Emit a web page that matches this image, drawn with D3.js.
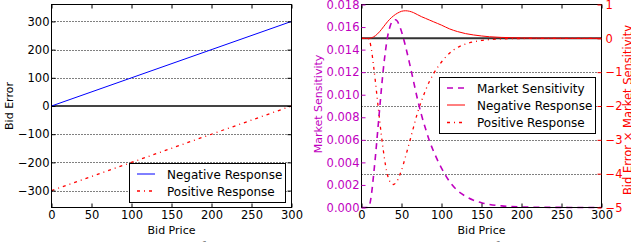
<!DOCTYPE html>
<html><head><meta charset="utf-8">
<script src="https://cdn.jsdelivr.net/npm/d3@7"></script>
<style>body{margin:0;background:#fff}svg{display:block}text{font-family:"DejaVu Sans",sans-serif}</style>
</head><body><svg id="c" width="631" height="242"></svg>
<script>
// ---- data ----
const bidPrice = [0, 300];
const negativeError = [0, 300];
const positiveError = [-300, 0];
const leftXTicks = [0, 50, 100, 150, 200, 250, 300];
const leftYTicks = [-300, -200, -100, 0, 100, 200, 300];

const sensBid = [0,5,8,10,12.5,15,17.5,20,22.5,25,27.5,30,32.5,35,37.5,40,42.5,45,47.5,50,55,60,65,70,75,80,85,90,95,100,110,120,130,140,150,160,175,200,225,250,275,300];
const sensitivity = [0,0,0,0.0002,0.0012,0.0028,0.0046,0.0066,0.0086,0.0106,0.0124,0.0139,0.0151,0.0159,0.0164,0.0166,0.01665,0.0165,0.0161,0.0156,0.0143,0.0128,0.0112,0.0096,0.0082,0.0070,0.0059,0.0050,0.0042,0.0035,0.0023,0.0015,0.0010,0.00065,0.00042,0.00027,0.00014,0.00005,0.00002,0.00001,0,0];
const negResponse = [0,0,0,0.002,0.015,0.042,0.08,0.132,0.194,0.265,0.341,0.417,0.491,0.557,0.615,0.664,0.708,0.745,0.775,0.80,0.815,0.80,0.76,0.70,0.64,0.59,0.54,0.49,0.44,0.39,0.28,0.20,0.14,0.10,0.07,0.047,0.027,0.011,0.005,0.0025,0,0];
const posResponse = [0,0,0,-0.06,-0.35,-0.80,-1.30,-1.85,-2.38,-2.9,-3.35,-3.75,-4.04,-4.21,-4.30,-4.32,-4.28,-4.20,-4.06,-3.90,-3.50,-3.07,-2.63,-2.20,-1.85,-1.54,-1.27,-1.05,-0.86,-0.70,-0.44,-0.27,-0.17,-0.104,-0.063,-0.038,-0.018,-0.005,-0.0015,-0.0005,0,0];
const rightXTicks = [0, 50, 100, 150, 200, 250, 300];
const sensTicks = [0,0.002,0.004,0.006,0.008,0.010,0.012,0.014,0.016,0.018];
const prodTicks = [-5,-4,-3,-2,-1,0,1];

const MAG = "#bf00bf", RED = "#ff0000", BLUE = "#0000ff";
const svg = d3.select("#c");
const fmtMinus = v => (v < 0 ? "\u2212" + Math.abs(v) : String(v));

function frame(g, x0, x1, y0, y1) {
  g.append("rect").attr("x", x0).attr("y", y0).attr("width", x1 - x0).attr("height", y1 - y0)
    .attr("fill", "none").attr("stroke", "#000").attr("stroke-width", 1);
}

// ================= LEFT PLOT =================
{
  const x = d3.scaleLinear().domain([0, 300]).range([51.5, 291.5]);
  const y = d3.scaleLinear().domain([-360, 360]).range([207.5, 4.5]);
  const g = svg.append("g");
  g.selectAll(".grid").data(leftYTicks.filter(d => d !== 0)).join("line")
    .attr("x1", x(0)).attr("x2", x(300)).attr("y1", d => Math.round(y(d)) + 0.5).attr("y2", d => Math.round(y(d)) + 0.5)
    .attr("stroke", "#000").attr("stroke-width", 1).attr("stroke-dasharray", "1,2");
  g.append("line").attr("x1", x(0)).attr("x2", x(300)).attr("y1", y(0)).attr("y2", y(0))
    .attr("stroke", "#444").attr("stroke-width", 2);
  const line = d3.line().x((d, i) => x(bidPrice[i])).y(d => y(d));
  g.append("path").attr("d", line(negativeError)).attr("fill", "none").attr("stroke", BLUE).attr("stroke-width", 1);
  g.append("path").attr("d", line(positiveError)).attr("fill", "none").attr("stroke", RED).attr("stroke-width", 1.3)
    .attr("stroke-dasharray", "3,4,1,4");
  frame(g, 51.5, 291.5, 4.5, 207.5);
  const xb = d3.axisBottom(x).tickValues(leftXTicks).tickSizeInner(-4).tickSizeOuter(0).tickPadding(3);
  const ax = g.append("g").attr("transform", "translate(0,207.5)").call(xb);
  const xt = d3.axisTop(x).tickValues(leftXTicks).tickSizeInner(-4).tickSizeOuter(0).tickFormat("");
  const axt = g.append("g").attr("transform", "translate(0,4.5)").call(xt);
  const yl = d3.axisLeft(y).tickValues(leftYTicks).tickSizeInner(-4).tickSizeOuter(0).tickPadding(2).tickFormat(fmtMinus);
  const ayl = g.append("g").attr("transform", "translate(51.5,0)").call(yl);
  const yr = d3.axisRight(y).tickValues(leftYTicks).tickSizeInner(-4).tickSizeOuter(0).tickFormat("");
  const ayr = g.append("g").attr("transform", "translate(291.5,0)").call(yr);
  [ax, axt, ayl, ayr].forEach(a => { a.select(".domain").remove(); a.selectAll("line").attr("stroke", "#000");
    a.selectAll("text").attr("fill", "#000").style("font-size", "11.5px").style("font-family", "DejaVu Sans"); });
  g.append("text").attr("x", 171.5).attr("y", 234).attr("text-anchor", "middle").style("font-size", "11px").text("Bid Price");
  g.append("text").attr("transform", "translate(13,106) rotate(-90)").attr("text-anchor", "middle").style("font-size", "11px").text("Bid Error");
  const lg = g.append("g");
  lg.append("rect").attr("x", 129.5).attr("y", 163.5).attr("width", 156).attr("height", 39).attr("fill", "#fff").attr("stroke", "#000");
  lg.append("line").attr("x1", 137).attr("x2", 155).attr("y1", 174).attr("y2", 174).attr("stroke", BLUE);
  lg.append("line").attr("x1", 137).attr("x2", 155).attr("y1", 191).attr("y2", 191).attr("stroke", RED).attr("stroke-width", 1.3).attr("stroke-dasharray", "3,4,1,4");
  lg.append("text").attr("x", 167).attr("y", 178.5).style("font-size", "12px").text("Negative Response");
  lg.append("text").attr("x", 167).attr("y", 195.5).style("font-size", "12px").text("Positive Response");
}

// ================= RIGHT PLOT =================
{
  const x = d3.scaleLinear().domain([0, 300]).range([361.5, 601.5]);
  const yL = d3.scaleLinear().domain([0, 0.018]).range([207.5, 4.5]);
  const yR = d3.scaleLinear().domain([-5, 1]).range([207.5, 4.5]);
  const g = svg.append("g");
  g.selectAll(".grid").data(prodTicks.filter(d => d < 0 && d > -5)).join("line")
    .attr("x1", x(0)).attr("x2", x(300)).attr("y1", d => Math.round(yR(d)) + 0.5).attr("y2", d => Math.round(yR(d)) + 0.5)
    .attr("stroke", "#000").attr("stroke-width", 1).attr("stroke-dasharray", "1,2");
  g.append("line").attr("x1", x(0)).attr("x2", x(300)).attr("y1", yR(0)).attr("y2", yR(0))
    .attr("stroke", "#333").attr("stroke-width", 2);
  const lineL = d3.line().x((d, i) => x(sensBid[i])).y(d => yL(d)).curve(d3.curveMonotoneX);
  const lineR = d3.line().x((d, i) => x(sensBid[i])).y(d => yR(d)).curve(d3.curveMonotoneX);
  g.append("path").attr("d", lineR(negResponse)).attr("fill", "none").attr("stroke", RED).attr("stroke-width", 1);
  g.append("path").attr("d", lineR(posResponse)).attr("fill", "none").attr("stroke", RED).attr("stroke-width", 1.3)
    .attr("stroke-dasharray", "3,4,1,4");
  g.append("path").attr("d", lineL(sensitivity)).attr("fill", "none").attr("stroke", MAG).attr("stroke-width", 1.6)
    .attr("stroke-dasharray", "6,5");
  frame(g, 361.5, 601.5, 4.5, 207.5);
  const xb = d3.axisBottom(x).tickValues(rightXTicks).tickSizeInner(-4).tickSizeOuter(0).tickPadding(3);
  const ax = g.append("g").attr("transform", "translate(0,207.5)").call(xb);
  const xt = d3.axisTop(x).tickValues(rightXTicks).tickSizeInner(-4).tickSizeOuter(0).tickFormat("");
  const axt = g.append("g").attr("transform", "translate(0,4.5)").call(xt);
  const yl = d3.axisLeft(yL).tickValues(sensTicks).tickSizeInner(-4).tickSizeOuter(0).tickPadding(2).tickFormat(d3.format(".3f"));
  const ayl = g.append("g").attr("transform", "translate(361.5,0)").call(yl);
  const yr = d3.axisRight(yR).tickValues(prodTicks).tickSizeInner(-4).tickSizeOuter(0).tickPadding(4).tickFormat(fmtMinus);
  const ayr = g.append("g").attr("transform", "translate(601.5,0)").call(yr);
  [ax, axt, ayl, ayr].forEach(a => { a.select(".domain").remove();
    a.selectAll("text").style("font-size", "11.5px").style("font-family", "DejaVu Sans"); });
  ax.selectAll("line").attr("stroke", "#000"); ax.selectAll("text").attr("fill", "#000");
  axt.selectAll("line").attr("stroke", "#000");
  ayl.selectAll("line").attr("stroke", MAG); ayl.selectAll("text").attr("fill", MAG);
  ayr.selectAll("line").attr("stroke", RED); ayr.selectAll("text").attr("fill", RED);
  g.append("text").attr("x", 481.5).attr("y", 234).attr("text-anchor", "middle").style("font-size", "11px").text("Bid Price");
  g.append("text").attr("transform", "translate(322,104) rotate(-90)").attr("text-anchor", "middle").attr("fill", MAG).style("font-size", "11px").text("Market Sensitivity");
  g.append("text").attr("transform", "translate(632,110) rotate(-90)").attr("text-anchor", "middle").attr("fill", RED).style("font-size", "11.5px").text("Bid Error \u00d7 Market Sensitivity");
  const lg = g.append("g");
  lg.append("rect").attr("x", 439.5).attr("y", 77.5).attr("width", 156).attr("height", 56).attr("fill", "#fff").attr("stroke", "#000");
  lg.append("line").attr("x1", 447).attr("x2", 465).attr("y1", 88).attr("y2", 88).attr("stroke", MAG).attr("stroke-width", 1.6).attr("stroke-dasharray", "6,5");
  lg.append("line").attr("x1", 447).attr("x2", 465).attr("y1", 105).attr("y2", 105).attr("stroke", RED);
  lg.append("line").attr("x1", 447).attr("x2", 465).attr("y1", 122.5).attr("y2", 122.5).attr("stroke", RED).attr("stroke-width", 1.3).attr("stroke-dasharray", "3,4,1,4");
  lg.append("text").attr("x", 477).attr("y", 92.5).style("font-size", "12px").text("Market Sensitivity");
  lg.append("text").attr("x", 477).attr("y", 109.5).style("font-size", "12px").text("Negative Response");
  lg.append("text").attr("x", 477).attr("y", 127).style("font-size", "12px").text("Positive Response");
}

// caption, cut off by the bottom edge as in the reference
svg.append("text").attr("x", 6).attr("y", 255).attr("fill", "#555")
  .style("font-family", "Liberation Serif").style("font-size", "18px")
  .text("Figure 3:       The illustration of the bid error and the market sensitivity for a bid.");
</script></body></html>
